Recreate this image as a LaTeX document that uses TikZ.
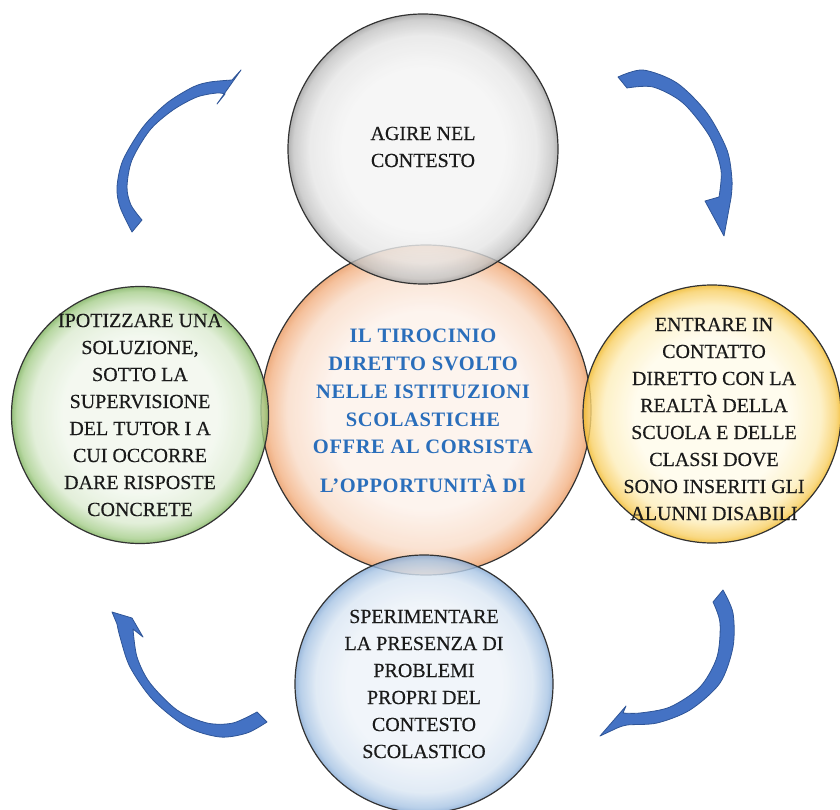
\documentclass[tikz,border=0pt]{standalone}
\usepackage{fontspec}
\setmainfont{Liberation Serif}
\newfontfamily\bodyfont[FakeBold=0.35]{Liberation Serif}
\newfontfamily\ctrfont[LetterSpace=3]{Liberation Serif}
\definecolor{gA}{HTML}{F1F7ED}\definecolor{gB}{HTML}{DCEBD1}\definecolor{gC}{HTML}{A8CF8E}\definecolor{gD}{HTML}{7FB35F}
\definecolor{kA}{HTML}{F4F4F4}\definecolor{kB}{HTML}{E6E6E6}\definecolor{kC}{HTML}{C4C4C4}\definecolor{kD}{HTML}{A0A0A0}
\definecolor{oA}{HTML}{FCF1EA}\definecolor{oB}{HTML}{F9DCC8}\definecolor{oC}{HTML}{F3B386}\definecolor{oD}{HTML}{E99A63}
\definecolor{yA}{HTML}{FFFBEA}\definecolor{yB}{HTML}{FDEEBC}\definecolor{yC}{HTML}{F8D067}\definecolor{yD}{HTML}{F0B828}
\definecolor{bA}{HTML}{EEF3F9}\definecolor{bB}{HTML}{DAE6F3}\definecolor{bC}{HTML}{A9C5E4}\definecolor{bD}{HTML}{86AAD5}
\definecolor{arrowfill}{HTML}{4472C4}
\definecolor{arrowline}{HTML}{2F5597}
\definecolor{ctrtext}{HTML}{2A6EBB}
\definecolor{bodytext}{HTML}{1A1A1A}
\pgfdeclareradialshading{bubgreen}{\pgfpointorigin}{color(0bp)=(gA); color(15bp)=(gA); color(21bp)=(gB); color(24bp)=(gC); color(25bp)=(gD); color(50bp)=(gD)}
\pgfdeclareradialshading{bubgray}{\pgfpointorigin}{color(0bp)=(kA); color(15bp)=(kA); color(21bp)=(kB); color(24bp)=(kC); color(25bp)=(kD); color(50bp)=(kD)}
\pgfdeclareradialshading{buborange}{\pgfpointorigin}{color(0bp)=(oA); color(15bp)=(oA); color(21bp)=(oB); color(24bp)=(oC); color(25bp)=(oD); color(50bp)=(oD)}
\pgfdeclareradialshading{bubyellow}{\pgfpointorigin}{color(0bp)=(yA); color(15bp)=(yA); color(21bp)=(yB); color(24bp)=(yC); color(25bp)=(yD); color(50bp)=(yD)}
\pgfdeclareradialshading{bubblue}{\pgfpointorigin}{color(0bp)=(bA); color(15bp)=(bA); color(21bp)=(bB); color(24bp)=(bC); color(25bp)=(bD); color(50bp)=(bD)}
\tikzset{
  bubble/.style={circle, draw=black!80, line width=1.2pt, inner sep=0pt, fill opacity=0.82},
  bodytxt/.style={align=center, text=bodytext, font=\bodyfont\fontsize{20}{27}\selectfont, inner sep=0pt},
  ctrtxt/.style={align=center, text=ctrtext, font=\ctrfont\bfseries\fontsize{20.5}{27.7}\selectfont, inner sep=0pt},
  curvearrow/.style={fill=arrowfill, draw=arrowline, line width=0.8pt, line join=round}
}
\begin{document}
\begin{tikzpicture}[x=1pt, y=-1pt]
\useasboundingbox (0,0) rectangle (840,810);
% circles
\node[bubble, shading=buborange, minimum size=330pt] (ctr) at (426,410) {};
\node[bubble, shading=bubgray, minimum size=270pt] (top) at (423,149) {};
\node[bubble, shading=bubgreen, minimum size=257pt] (lft) at (140,415) {};
\node[bubble, shading=bubyellow, minimum size=258pt] (rgt) at (712,414) {};
\node[bubble, shading=bubblue, minimum size=258pt] (bot) at (424,684) {};
% texts
\node[bodytxt] (toptxt) at (423,147) {AGIRE NEL\\CONTESTO};
\node[bodytxt] (lfttxt) at (140,415) {IPOTIZZARE UNA\\SOLUZIONE,\\SOTTO LA\\SUPERVISIONE\\DEL TUTOR I A\\CUI OCCORRE\\DARE RISPOSTE\\CONCRETE};
\node[bodytxt] (rgttxt) at (714,419) {ENTRARE IN\\CONTATTO\\DIRETTO CON LA\\REALTÀ DELLA\\SCUOLA E DELLE\\CLASSI DOVE\\SONO INSERITI GLI\\ALUNNI DISABILI};
\node[bodytxt] (bottxt) at (424,684) {SPERIMENTARE\\LA PRESENZA DI\\PROBLEMI\\PROPRI DEL\\CONTESTO\\SCOLASTICO};
\node[ctrtxt] (ctrtxt) at (423,411) {IL TIROCINIO\\DIRETTO SVOLTO\\NELLE ISTITUZIONI\\SCOLASTICHE\\OFFRE AL CORSISTA\\[11pt]L’OPPORTUNITÀ DI};
% curved arrows
\filldraw[curvearrow] plot[smooth] coordinates {(132,232) (120,207) (117,187) (123,160) (143,127) (167,103) (193,87) (210,82) (232,80)}
  -- (241,70) -- (217,104) -- (225,94)
  -- plot[smooth] coordinates {(225,94) (217,93) (197,97) (173,110) (150,130) (132,160) (127,187) (131,205) (142,220)} -- cycle;
\filldraw[curvearrow] plot[smooth] coordinates {(618,77) (643,70) (677,83) (707,113) (727,150) (732,180) (731,198)}
  -- (724,236) -- (705,201) -- (719,197)
  -- plot[smooth] coordinates {(719,197) (721,170) (710,137) (683,103) (653,87) (627,88)} -- cycle;
\filldraw[curvearrow] plot[smooth] coordinates {(723,590) (733,613) (733,647) (720,683) (690,710) (657,723) (627,725) (615,729)}
  -- (600,736) -- (626,706) -- (623,713)
  -- plot[smooth] coordinates {(623,713) (640,713) (670,707) (700,687) (717,657) (720,623) (713,602)} -- cycle;
\filldraw[curvearrow] plot[smooth] coordinates {(267,722) (247,733) (220,737) (187,727) (153,700) (130,667) (120,637) (117,624)}
  -- (112,612) -- (132,618) -- (143,637) -- (133,629)
  -- plot[smooth] coordinates {(133,629) (137,657) (150,683) (177,710) (207,723) (233,723) (257,712)} -- cycle;
\end{tikzpicture}
\end{document}
